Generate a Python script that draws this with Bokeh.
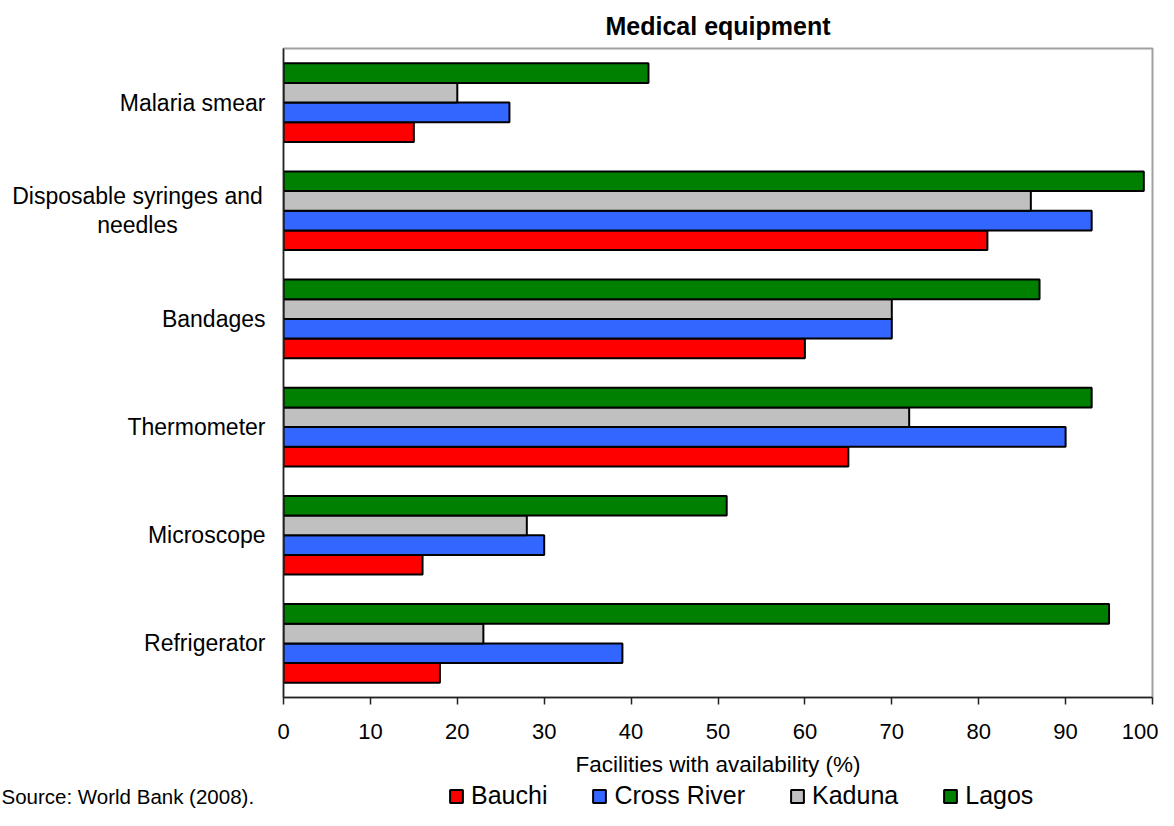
from bokeh.plotting import figure
from bokeh.models import ColumnDataSource, Range1d, FixedTicker, Label, Legend, LegendItem
from bokeh.layouts import column, row
from bokeh.embed import file_html
from bokeh.resources import INLINE

# ---- data (categories listed top to bottom) ----
categories = ["Malaria smear", "Disposable syringes and\nneedles", "Bandages",
              "Thermometer", "Microscope", "Refrigerator"]
series_names = ["Bauchi", "Cross River", "Kaduna", "Lagos"]
bauchi = [15, 81, 60, 65, 16, 18]
cross_river = [26, 93, 70, 90, 30, 39]
kaduna = [20, 86, 70, 72, 28, 23]
lagos = [42, 99, 87, 93, 51, 95]
x_ticks = [0, 10, 20, 30, 40, 50, 60, 70, 80, 90, 100]
title_text = "Medical equipment"
x_title = "Facilities with availability (%)"
source_note = "Source: World Bank (2008)."

colors = ["#FF0000", "#3366FF", "#C0C0C0", "#008000"]
FONT = "Liberation Sans"

W = 1158
LEFT_W = 273
MAIN_H = 782
STRIP_H = 28
TOP_B = 48
BOT_B = 85

n = len(categories)
centers = [n - 0.5 - i for i in range(n)]
bar_h = 0.182
offsets = [-1.5 * bar_h, -0.5 * bar_h, 0.5 * bar_h, 1.5 * bar_h]  # Bauchi bottom ... Lagos top

sources = []
for vals, off in zip([bauchi, cross_river, kaduna, lagos], offsets):
    sources.append(ColumnDataSource(dict(y=[c + off for c in centers], x=vals)))

# ---------------- main chart ----------------
p = figure(width=W - LEFT_W, height=MAIN_H, output_backend="svg", toolbar_location=None,
           x_range=Range1d(0, 100), y_range=Range1d(0, n),
           min_border_left=10, min_border_right=6, min_border_top=TOP_B,
           min_border_bottom=BOT_B)
p.background_fill_color = "white"
p.border_fill_color = "white"
p.outline_line_color = "#A0A0A0"
p.outline_line_width = 2
p.xgrid.visible = False
p.ygrid.visible = False

p.title.text = title_text
p.title.align = "center"
p.title.text_font = FONT
p.title.text_font_size = "25px"
p.title.text_font_style = "bold"
p.title.text_color = "black"
p.title.standoff = 17

for src, col in zip(sources, colors):
    p.hbar(y="y", right="x", left=0, height=bar_h, source=src,
           fill_color=col, line_color="black", line_width=2)

xa = p.xaxis[0]
xa.ticker = FixedTicker(ticks=x_ticks)
xa.minor_tick_line_color = None
xa.major_tick_in = 0
xa.major_tick_out = 7
xa.major_tick_line_color = "#222222"
xa.major_tick_line_width = 1.5
xa.axis_line_color = "#222222"
xa.axis_line_width = 1.5
xa.major_label_text_font = FONT
xa.major_label_text_font_size = "22px"
xa.major_label_text_color = "black"
xa.major_label_standoff = 19
xa.axis_label = x_title
xa.axis_label_text_font = FONT
xa.axis_label_text_font_size = "22.5px"
xa.axis_label_text_font_style = "normal"
xa.axis_label_text_color = "black"
xa.axis_label_standoff = 10

ya = p.yaxis[0]
ya.ticker = FixedTicker(ticks=[])
ya.major_tick_line_color = None
ya.major_tick_out = 0
ya.major_tick_in = 0
ya.minor_tick_line_color = None
ya.major_label_standoff = 0
ya.major_label_text_font_size = "0px"
ya.axis_line_color = "#222222"
ya.axis_line_width = 1.5

# ---------------- category labels (left strip, shares the y range) ----------------
pl = figure(width=LEFT_W, height=MAIN_H, output_backend="svg", toolbar_location=None,
            x_range=Range1d(0, LEFT_W), y_range=p.y_range,
            x_axis_location=None, y_axis_location=None,
            min_border_left=0, min_border_right=0, min_border_top=TOP_B,
            min_border_bottom=BOT_B)
pl.outline_line_color = None
pl.grid.visible = False
for cat, c in zip(categories, centers):
    if "\n" in cat:
        pl.add_layout(Label(x=137, y=c, text=cat, text_align="center",
                            text_baseline="middle", text_font=FONT, text_font_size="23px",
                            text_line_height=1.1, text_color="black"))
    else:
        pl.add_layout(Label(x=265, y=c, text=cat, text_align="right",
                            text_baseline="middle", text_font=FONT, text_font_size="23px",
                            text_color="black"))

# ---------------- bottom strip: source note + legend ----------------
pb = figure(width=W, height=STRIP_H, output_backend="svg", toolbar_location=None,
            x_range=Range1d(0, W), y_range=Range1d(0, STRIP_H),
            x_axis_location=None, y_axis_location=None,
            min_border_left=0, min_border_right=0, min_border_top=0, min_border_bottom=0)
pb.outline_line_color = None
pb.grid.visible = False
# the legend's renderers share the bar data but are hidden (legend swatches only)
pb.extra_y_ranges = {"offview": Range1d(1000, 2000)}
pb.extra_x_ranges = {"offview": Range1d(1000, 2000)}

items = []
for name, src, col in zip(series_names, sources, colors):
    r = pb.hbar(y="y", right="x", left=0, height=bar_h, source=src,
                y_range_name="offview", x_range_name="offview",
                fill_color=col, line_color="black", line_width=2)
    r.visible = False
    items.append(LegendItem(label=name, renderers=[r]))
legend = Legend(items=items, orientation="horizontal", location=(448, 0),
                padding=0, margin=0, spacing=44, glyph_width=16, glyph_height=16,
                label_standoff=7, label_text_font=FONT, label_text_font_size="25px",
                label_text_color="black", border_line_color=None,
                background_fill_alpha=0, inactive_fill_alpha=0)
pb.add_layout(legend, "center")
pb.add_layout(Label(x=1, y=STRIP_H / 2, text=source_note, text_align="left",
                    text_baseline="middle", text_font=FONT, text_font_size="20.5px",
                    text_color="black"))

layout = column(row(pl, p), pb)
open("out.html", "w").write(file_html(layout, INLINE))
